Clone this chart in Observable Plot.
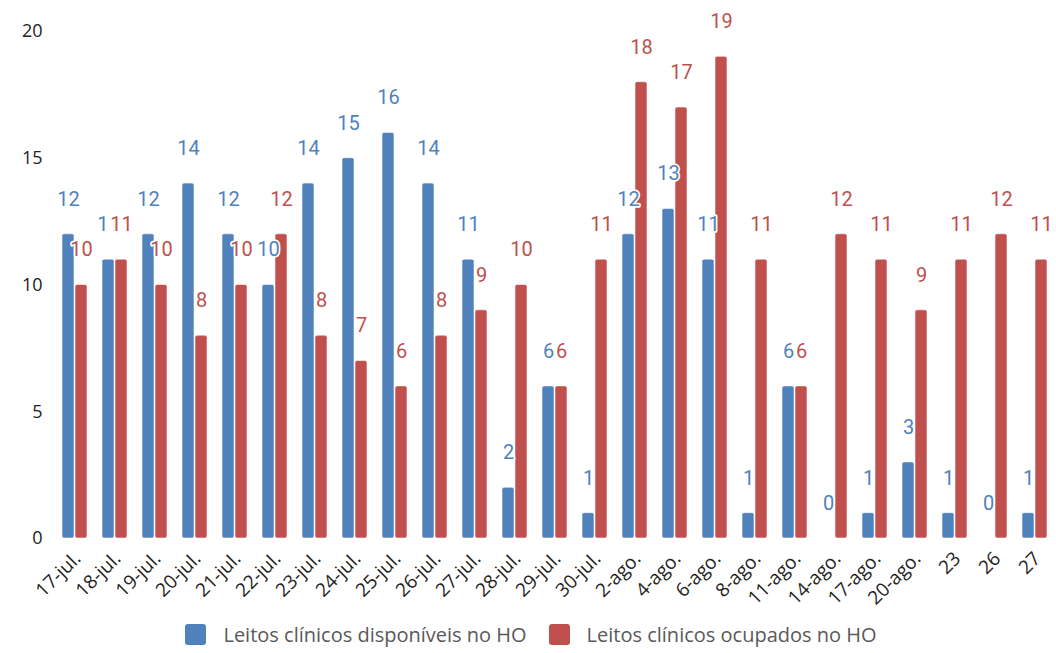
<!DOCTYPE html>
<html>
<head>
<meta charset="utf-8">
<script src="https://cdn.jsdelivr.net/npm/d3@7"></script>
<script src="https://cdn.jsdelivr.net/npm/@observablehq/plot@0.6"></script>
<style>
  html, body { margin: 0; padding: 0; background: #fff; }
  #chart { width: 1056px; height: 615px; }
  .legend { display: flex; justify-content: center; align-items: center; height: 38px; font-family: "Open Sans", sans-serif; font-size: 20px; color: #595959; padding-left: 6px; }
  .legend .item { display: flex; align-items: center; margin: 0 11px; }
  .legend .sw { width: 21px; height: 21px; border-radius: 3px; margin-right: 17px; }
</style>
</head>
<body>
<div id="chart"></div>
<script>
const categories = ["17-jul.", "18-jul.", "19-jul.", "20-jul.", "21-jul.", "22-jul.", "23-jul.", "24-jul.", "25-jul.", "26-jul.", "27-jul.", "28-jul.", "29-jul.", "30-jul.", "2-ago.", "4-ago.", "6-ago.", "8-ago.", "11-ago.", "14-ago.", "17-ago.", "20-ago.", "23", "26", "27"];
const disponiveis = [12, 11, 12, 14, 12, 10, 14, 15, 16, 14, 11, 2, 6, 1, 12, 13, 11, 1, 6, 0, 1, 3, 1, 0, 1];
const ocupados = [10, 11, 10, 8, 10, 12, 8, 7, 6, 8, 9, 10, 6, 11, 18, 17, 19, 11, 6, 12, 11, 9, 11, 12, 11];
const seriesNames = ["Leitos clínicos disponíveis no HO", "Leitos clínicos ocupados no HO"];
const seriesColors = ["#4F81BD", "#C0504D"];
const yTicks = [0, 5, 10, 15, 20];

const data = [];
categories.forEach((c, i) => {
  data.push({cat: c, series: seriesNames[0], value: disponiveis[i]});
  data.push({cat: c, series: seriesNames[1], value: ocupados[i]});
});

const chart = Plot.plot({
  width: 1056,
  height: 615,
  marginTop: 31,
  marginBottom: 77,
  marginLeft: 52,
  marginRight: 1,
  style: {fontFamily: "Open Sans, sans-serif", fontSize: "18px", color: "#222", background: "#fff", overflow: "visible"},
  fx: {domain: categories, paddingInner: 0.35, paddingOuter: 0.15, label: null},
  x: {domain: seriesNames, paddingInner: 0.1, paddingOuter: 0, axis: null},
  y: {domain: [0, 20], label: null},
  color: {domain: seriesNames, range: seriesColors},
  marks: [
    Plot.axisY({ticks: yTicks, tickSize: 0, tickPadding: 19, label: null, fill: "#222", fontSize: 18}),
    Plot.axisFx({anchor: "bottom", tickRotate: -45, tickSize: 0, tickPadding: 17, dx: 3, label: null, fill: "#222", fontSize: 19}),
    Plot.barY(data, {fx: "cat", x: "series", y: "value", fill: "series", stroke: "#fff", strokeOpacity: 0.7, strokeWidth: 0.8, rx: 2}),
    Plot.text(data, {fx: "cat", x: "series", y: "value", text: d => String(d.value), fill: "series", dy: -35, stroke: "#fff", strokeWidth: 3.5, fontSize: 20, fontFamily: "Roboto, sans-serif"})
  ]
});
document.getElementById("chart").appendChild(chart);

const legend = document.createElement("div");
legend.className = "legend";
seriesNames.forEach((s, i) => {
  const item = document.createElement("div");
  item.className = "item";
  const sw = document.createElement("div");
  sw.className = "sw";
  sw.style.background = seriesColors[i];
  const t = document.createElement("span");
  t.textContent = s;
  item.appendChild(sw);
  item.appendChild(t);
  legend.appendChild(item);
});
document.body.appendChild(legend);
</script>
</body>
</html>
